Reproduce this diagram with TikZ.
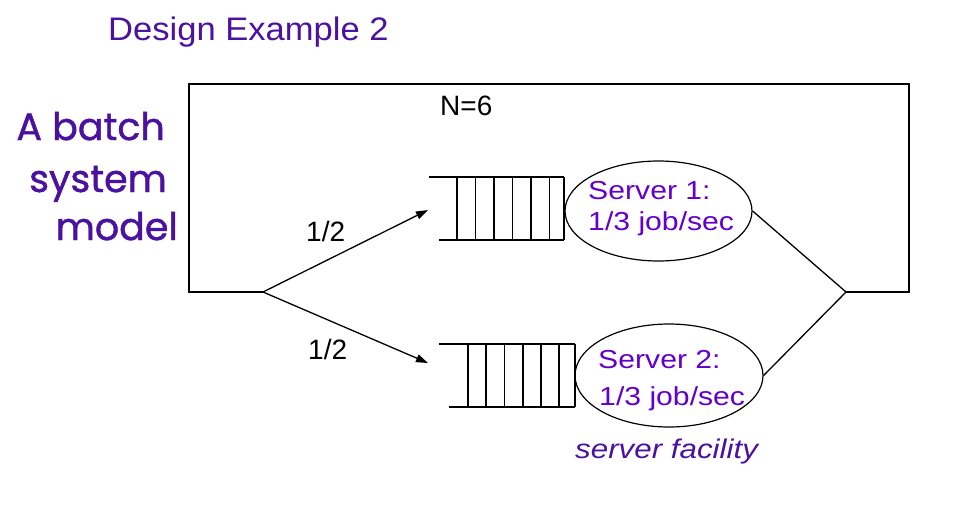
\documentclass[tikz,border=0pt]{standalone}
\usepackage{fontspec}
\setmainfont{Liberation Sans}
\newfontfamily\handfont{Poppins}[FakeBold=1.2]
\usetikzlibrary{arrows.meta,shapes.geometric}
\definecolor{titleviolet}{HTML}{4B12A0}
\definecolor{serverviolet}{HTML}{6300CC}

\begin{document}
\begin{tikzpicture}[x=1pt,y=-1pt]
       \tikzstyle{wire}=[line width=1.3pt, black]
       \tikzstyle{flow}=[wire, -{Triangle[length=12pt,width=8pt]}]
       \tikzstyle{servernode}=[draw, line width=1.2pt, ellipse, inner sep=0pt]
       \tikzstyle{servertext}=[anchor=base west, inner sep=0pt, text=serverviolet, xscale=1.16, font=\fontsize{26}{30}\selectfont]
       \tikzstyle{probtext}=[anchor=base west, inner sep=0pt, font=\fontsize{28}{33}\selectfont]
       \tikzstyle{handtext}=[anchor=base east, inner sep=0pt, text=titleviolet, font=\handfont\fontsize{38}{44}\selectfont]
       \useasboundingbox (0,0) rectangle (957,530);

       \node[anchor=base west, inner sep=0pt, text=titleviolet, xscale=1.06, font=\fontsize{32.6}{38}\selectfont] (title) at (108,40) {Design Example 2};
       \node[handtext] (batcha) at (165,140) {A batch};
       \node[handtext] (batchb) at (167,192) {system};
       \node[handtext] (batchc) at (178,240) {model};

       \coordinate (split) at (263,292);
       \coordinate (join) at (846,292);
       \coordinate (q1in) at (428,210);
       \coordinate (q2in) at (428,363);

       % upper queue
       \draw[wire] (429,177) -- (564,177);
       \draw[wire] (439,240) -- (564,240);
       \foreach \x in {457,475.5,494,512.5,531,549.5,564}
        \draw[wire] (\x,177) -- (\x,240);
       % lower queue
       \draw[wire] (439,344) -- (575,344);
       \draw[wire] (449,407) -- (575,407);
       \foreach \x in {468,486,504.5,523,541,559,575}
        \draw[wire] (\x,344) -- (\x,407);

       \node[servernode, minimum width=187pt, minimum height=100pt] (srv1) at (658.5,211) {};
       \node[servernode, minimum width=188pt, minimum height=103pt] (srv2) at (669,375.5) {};
       \node[servertext] (srv1a) at (588,199) {Server 1:};
       \node[servertext] (srv1b) at (588,230) {1/3 job/sec};
       \node[servertext] (srv2a) at (598,368) {Server 2:};
       \node[servertext] (srv2b) at (599,405) {1/3 job/sec};
       \node[anchor=base west, inner sep=0pt, text=titleviolet, xscale=1.16, font=\itshape\fontsize{27}{32}\selectfont] (facility) at (575,458) {server facility};

       \node[probtext] (nlabel) at (440,115) {N=6};
       \node[probtext] (prob1) at (306,241) {1/2};
       \node[probtext] (prob2) at (308,359) {1/2};

       \draw[wire] (split) -- (189,292) -- (189,84) -- (909,84) -- (909,292) -- (join);
       \draw[flow] (split) -- (q1in);
       \draw[flow] (split) -- (q2in);
       \draw[wire] (srv1.east) -- (join);
       \draw[wire] (srv2.east) -- (join);
      \end{tikzpicture}
\end{document}
